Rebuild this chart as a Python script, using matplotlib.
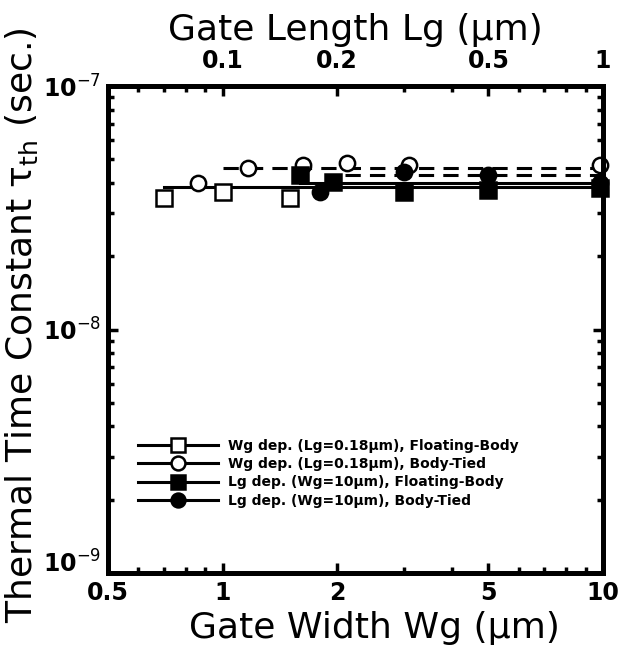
#thermal time constant vs gate width / gate length
import matplotlib
matplotlib.use('Agg')
import matplotlib.pyplot as plt
from matplotlib.ticker import FixedLocator, NullFormatter

plt.rcParams['font.family'] = ['DejaVu Sans']
plt.rcParams['mathtext.fontset'] = 'dejavusans'

#Wg dependence (Lg=0.18um), bottom axis
wgFloatWidth = [0.7, 1.0, 1.5]
wgFloatTau = [3.47e-8, 3.67e-8, 3.47e-8]
wgTiedWidth = [0.86, 1.17, 1.63, 2.12, 3.1, 9.8]
wgTiedTau = [4.0e-8, 4.6e-8, 4.74e-8, 4.83e-8, 4.74e-8, 4.74e-8]

#Lg dependence (Wg=10um), top axis
lgFloatLength = [0.16, 0.195, 0.3, 0.5, 0.98]
lgFloatTau = [4.31e-8, 4.04e-8, 3.67e-8, 3.74e-8, 3.81e-8]
lgTiedLength = [0.18, 0.3, 0.5, 0.98]
lgTiedTau = [3.67e-8, 4.43e-8, 4.31e-8, 4.0e-8]

#flat guide lines through each set
fitWgFloatX = [0.7, 10]
fitWgFloatY = [3.85e-8, 3.85e-8]
fitWgTiedX = [1.0, 10]
fitWgTiedY = [4.6e-8, 4.6e-8]
fitLgFloatX = [0.16, 1.0]
fitLgFloatY = [4.0e-8, 4.0e-8]
fitLgTiedX = [0.21, 1.0]
fitLgTiedY = [4.31e-8, 4.31e-8]

labels = ['Wg dep. (Lg=0.18\u03bcm), Floating-Body',
          'Wg dep. (Lg=0.18\u03bcm), Body-Tied',
          'Lg dep. (Wg=10\u03bcm), Floating-Body',
          'Lg dep. (Wg=10\u03bcm), Body-Tied']

bottomTicks = [0.5, 1, 2, 5, 10]
bottomTickLabels = ['0.5', '1', '2', '5', '10']
topTicks = [0.1, 0.2, 0.5, 1]
topTickLabels = ['0.1', '0.2', '0.5', '1']
yTicks = [1e-9, 1e-8, 1e-7]
yTickLabels = ['10$^{-9}$', '10$^{-8}$', '10$^{-7}$']

fig = plt.figure(figsize=(6.21, 6.51), dpi=100)
ax1 = fig.add_axes([108 / 621, 1 - 573 / 651, 495 / 621, 487 / 651])
ax2 = ax1.twiny()

ms = 11
mew = 1.8
lw = 2.2

#Wg dependence on the bottom axis
ax1.plot(fitWgFloatX, fitWgFloatY, color='k', lw=lw)
ax1.plot(fitWgTiedX, fitWgTiedY, color='k', lw=lw, dashes=(5, 3))
h1, = ax1.plot(wgFloatWidth, wgFloatTau, ls='none', marker='s', ms=ms, mfc='white', mec='k', mew=mew, clip_on=False)
h2, = ax1.plot(wgTiedWidth, wgTiedTau, ls='none', marker='o', ms=ms, mfc='white', mec='k', mew=mew, clip_on=False)

#Lg dependence on the top axis
ax2.plot(fitLgFloatX, fitLgFloatY, color='k', lw=lw)
ax2.plot(fitLgTiedX, fitLgTiedY, color='k', lw=lw, dashes=(5, 3))
h3, = ax2.plot(lgFloatLength, lgFloatTau, ls='none', marker='s', ms=ms, mfc='k', mec='k', mew=mew, clip_on=False)
h4, = ax2.plot(lgTiedLength, lgTiedTau, ls='none', marker='o', ms=ms, mfc='k', mec='k', mew=mew, clip_on=False)

#axes scales and limits
ax1.set_xscale('log')
ax1.set_yscale('log')
ax1.set_xlim(0.5, 10)
ax1.set_ylim(1e-9, 1e-7)
ax2.set_xscale('log')
ax2.set_xlim(0.05, 1)

ax1.xaxis.set_major_locator(FixedLocator(bottomTicks))
ax1.set_xticklabels(bottomTickLabels)
ax1.xaxis.set_minor_formatter(NullFormatter())
ax2.xaxis.set_major_locator(FixedLocator(topTicks))
ax2.set_xticklabels(topTickLabels)
ax2.xaxis.set_minor_formatter(NullFormatter())
ax1.yaxis.set_major_locator(FixedLocator(yTicks))
ax1.set_yticklabels(yTickLabels)
ax1.yaxis.set_minor_formatter(NullFormatter())

for spine in ax1.spines.values():
    spine.set_linewidth(3.5)
for spine in ax2.spines.values():
    spine.set_linewidth(3.5)

ax1.tick_params(which='major', direction='in', length=7, width=2.5, top=False, right=True, labelsize=17)
ax1.tick_params(which='minor', direction='in', length=4, width=2.5, top=False, right=True)
ax1.tick_params(axis='x', which='major', pad=6)
ax1.tick_params(axis='y', which='major', pad=5)
ax2.tick_params(which='major', direction='in', length=7, width=2.5, labelsize=17, pad=9)
ax2.tick_params(which='minor', direction='in', length=4, width=2.5)
for lab in ax1.get_xticklabels() + ax1.get_yticklabels() + ax2.get_xticklabels():
    lab.set_fontweight('bold')
#y labels centred on the tick, the lowest one raised to clear the 0.5
ylabs = ax1.get_yticklabels()
for lab in ylabs:
    lab.set_verticalalignment('center_baseline')
ylabs[0].set_verticalalignment('baseline')

#axis titles
fig.text(374 / 621, 1 - 628 / 651, 'Gate Width Wg (\u03bcm)', fontsize=26, ha='center', va='center')
fig.text(355 / 621, 1 - 30 / 651, 'Gate Length Lg (\u03bcm)', fontsize=26, ha='center', va='center')
fig.text(22 / 621, 1 - 325 / 651, 'Thermal Time Constant \u03c4$_{\\rm th}$ (sec.)', fontsize=26,
         ha='center', va='center', rotation=90)

#legend with line through the marker
handles = []
for h in [h1, h2, h3, h4]:
    line, = ax1.plot([], [], color='k', lw=lw, marker=h.get_marker(), ms=10,
                     mfc=h.get_markerfacecolor(), mec='k', mew=mew)
    handles.append(line)
leg = ax1.legend(handles, labels, loc='upper left', bbox_to_anchor=(0.06, 0.275), frameon=False,
                 borderpad=0, borderaxespad=0, handlelength=5.8, handletextpad=0.7,
                 labelspacing=0.3, prop={'size': 10, 'weight': 'bold'})

plt.savefig('out.png', dpi=100)
